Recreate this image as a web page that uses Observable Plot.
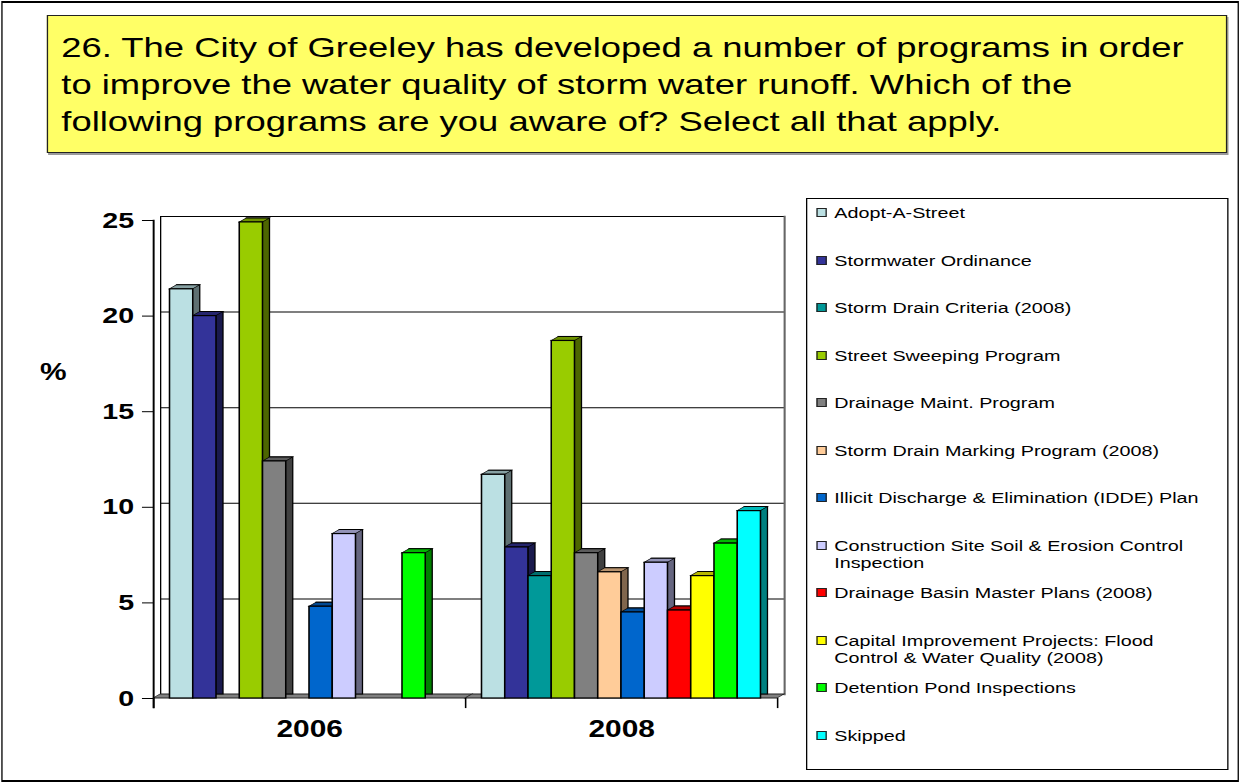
<!DOCTYPE html>
<html>
<head>
<meta charset="utf-8">
<script src="https://cdn.jsdelivr.net/npm/d3@7"></script>
<script src="https://cdn.jsdelivr.net/npm/@observablehq/plot@0.6"></script>
<style>
html,body{margin:0;padding:0;background:#fff;}
body{width:1241px;height:784px;overflow:hidden;font-family:"Liberation Sans",Arial,Helvetica,sans-serif;color:#000;}
#page{position:absolute;left:0;top:0;height:784px;transform-origin:0 0;}
#page > div{position:absolute;box-sizing:border-box;}
#outer{border-style:solid;border-color:#000;border-width:2px 1.6px;}
#title{background:#ffff66;border:1px solid #222;box-shadow:1px 2px 0 #9a9a9a;font-size:28px;line-height:36.7px;}
#legend{border:1px solid #000;background:#fff;}
.item{position:absolute;display:flex;align-items:flex-start;}
.sw{display:block;flex:none;border:1px solid #222;box-sizing:border-box;height:9px;margin-top:4px;}
.lt{display:block;font-size:15.2px;line-height:17px;width:290px;}
#pct{font-size:23px;font-weight:bold;}
</style>
</head>
<body>
<div id="page">
  <div id="outer"></div>
  <div id="title">26. The City of Greeley has developed a number of programs in order to improve the water quality of storm water runoff. Which of the following programs are you aware of? Select all that apply.</div>
  <div id="pct">%</div>
  <div id="chart"></div>
  <div id="legend"></div>
</div>
<script>
// ---------- data ----------
const years = ["2006", "2008"];
const series = [
  "Adopt-A-Street",
  "Stormwater Ordinance",
  "Storm Drain Criteria (2008)",
  "Street Sweeping Program",
  "Drainage Maint. Program",
  "Storm Drain Marking Program (2008)",
  "Illicit Discharge & Elimination (IDDE) Plan",
  "Construction Site Soil & Erosion Control Inspection",
  "Drainage Basin Master Plans (2008)",
  "Capital Improvement Projects: Flood Control & Water Quality (2008)",
  "Detention Pond Inspections",
  "Skipped"
];
const seriesColors = ["#bbe0e3", "#333399", "#009999", "#99cc00", "#808080", "#ffcc99",
                      "#0066cc", "#ccccff", "#ff0000", "#ffff00", "#00ff00", "#00ffff"];
const values2006 = [21.4, 20.0, null, 24.9, 12.4, null, 4.8, 8.6, null, null, 7.6, null];
const values2008 = [11.7, 7.9, 6.4, 18.7, 7.6, 6.6, 4.5, 7.1, 4.6, 6.4, 8.1, 9.8];
const yTicks = [0, 5, 10, 15, 20, 25];

// ---------- layout (the original picture is stretched horizontally) ----------
const S = 1.3;
const X = v => (v / S) + "px";
function place(id, x, y, w, h) {
  const el = document.getElementById(id);
  el.style.left = X(x); el.style.top = y + "px";
  if (w != null) el.style.width = X(w);
  if (h != null) el.style.height = h + "px";
  return el;
}
const page = document.getElementById("page");
page.style.width = X(1241);
page.style.transform = `scaleX(${S})`;
place("outer", 1, 1, 1238, 781);
const title = place("title", 47, 15, 1180, 138);
title.style.padding = `14.3px ${X(13)} 0 ${X(13)}`;
place("pct", 40, 359);
place("chart", 0, 190, 800, 570);
place("legend", 806, 198, 422, 572);

// ---------- rows ----------
const rows = [];
years.forEach((yr, yi) => {
  const vals = yi === 0 ? values2006 : values2008;
  series.forEach((s, si) => {
    if (vals[si] != null) rows.push({year: yr, series: s, value: vals[si], color: seriesColors[si]});
  });
});
const shade = (c, k) => { const r = d3.rgb(c); return d3.rgb(r.r * k, r.g * k, r.b * k).formatHex(); };

const DXu = 7 / S, DY = 4;
const chart = Plot.plot({
  width: 800 / S, height: 570,
  marginLeft: 153 / S, marginRight: 23 / S, marginTop: 30, marginBottom: 62,
  style: {background: "transparent", overflow: "visible", fontFamily: '"Liberation Sans", Arial, sans-serif', color: "#000", maxWidth: "none"},
  fx: {domain: years, padding: 0, round: false},
  x: {domain: series, paddingInner: 0, paddingOuter: 0.71, round: false, axis: null},
  y: {domain: [0, 25]},
  color: {type: "identity"},
  marks: [
    // back wall
    Plot.gridY(yTicks, {stroke: "#000", strokeOpacity: 1, strokeWidth: 1, dx: DXu, dy: -DY}),
    Plot.frame({anchor: "left", facetAnchor: "left", stroke: "#000", strokeWidth: 1, dx: DXu, dy: -DY}),
    Plot.frame({anchor: "right", facetAnchor: "right", stroke: "#666", strokeWidth: 1.6, dx: DXu, dy: -DY}),
    // floor
    Plot.barY([0], {y1: 0, y2: 0, insetTop: -DY, fill: "#808080", stroke: "#222", strokeWidth: 1, className: "skewtop"}),
    // bars: back (side), top, front
    Plot.barY(rows, {fx: "year", x: "series", y: "value", fill: d => shade(d.color, 0.5), stroke: "#000", strokeWidth: 1, dx: DXu, dy: -DY}),
    Plot.barY(rows, {fx: "year", x: "series", y1: "value", y2: "value", insetTop: -DY, fill: d => shade(d.color, 0.72), stroke: "#000", strokeWidth: 1, className: "skewtop"}),
    Plot.barY(rows, {fx: "year", x: "series", y: "value", fill: "color", stroke: "#000", strokeWidth: 1.2}),
    // axes
    Plot.frame({anchor: "left", facetAnchor: "left", stroke: "#000", strokeWidth: 1.5, insetBottom: -9}),
    Plot.frame({anchor: "left", stroke: "#000", strokeWidth: 1.2, insetTop: 478, insetBottom: -9}),
    Plot.frame({anchor: "right", facetAnchor: "right", stroke: "#000", strokeWidth: 1.2, insetTop: 478, insetBottom: -9}),
    Plot.axisY(yTicks, {tickSize: 8.5, tickPadding: 6.5, fontSize: 22, fontWeight: "bold", label: null, stroke: "#000"}),
    Plot.axisFx({anchor: "bottom", tickSize: 0, tickPadding: 22, fontSize: 23, fontWeight: "bold", label: null})
  ]
});
document.getElementById("chart").appendChild(chart);
const skewDeg = -Math.atan(DXu / DY) * 180 / Math.PI;
d3.select(chart).selectAll(".skewtop rect")
  .style("transform-box", "fill-box")
  .style("transform-origin", "0 100%")
  .style("transform", `skewX(${skewDeg}deg)`);

// ---------- legend ----------
const legend = d3.select("#legend");
series.forEach((s, i) => {
  const item = legend.append("div").attr("class", "item")
    .style("left", X(9)).style("top", (5 + i * 47.5) + "px");
  item.append("span").attr("class", "sw").style("width", X(11)).style("background", seriesColors[i]);
  item.append("span").attr("class", "lt").style("margin-left", X(7)).text(s);
});
</script>
</body>
</html>
